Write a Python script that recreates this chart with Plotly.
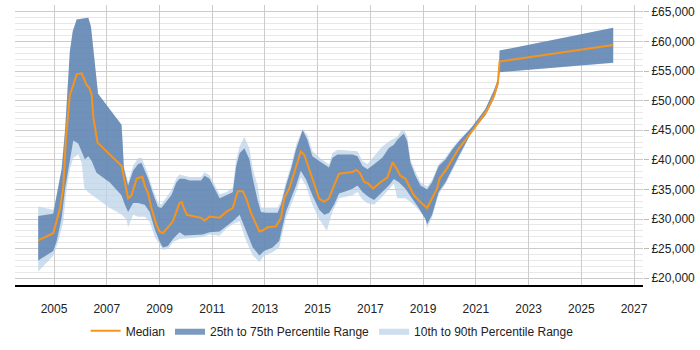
import plotly.graph_objects as go

# ---- data (decimal years, GBP) ----
median_x = [2004.40, 2004.97, 2005.23, 2005.35, 2005.45, 2005.60, 2005.73, 2005.86, 2006.05, 2006.13,
            2006.24, 2006.34, 2006.43, 2006.49, 2006.65, 2007.56, 2007.81, 2007.94, 2008.13, 2008.25,
            2008.35, 2008.44, 2008.57, 2008.69, 2008.88, 2009.00, 2009.13, 2009.32, 2009.51, 2009.64,
            2009.76, 2009.85, 2009.92, 2010.04, 2010.40, 2010.58, 2010.71, 2010.90, 2011.28, 2011.53,
            2011.78, 2011.97, 2012.16, 2012.29, 2012.47, 2012.66, 2012.79, 2012.92, 2013.10, 2013.42,
            2013.61, 2013.73, 2013.92, 2014.11, 2014.36, 2014.49, 2014.68, 2014.87, 2015.06, 2015.25,
            2015.43, 2015.62, 2015.81, 2016.07, 2016.32, 2016.47, 2016.60, 2016.76, 2016.92, 2017.10,
            2017.32, 2017.64, 2017.77, 2017.85, 2017.98, 2018.14, 2018.33, 2018.65, 2018.90, 2019.15,
            2019.34, 2019.53, 2019.62, 2019.91, 2020.35, 2020.92, 2021.42, 2021.71, 2021.84, 2021.90,
            2026.21]
median_y = [26400, 27600, 31900, 35300, 43400, 51000, 52600, 54450, 54600, 53800,
            52600, 52150, 51000, 47200, 42900, 39000, 33500, 34000, 36800, 37000,
            37150, 35650, 34350, 31900, 29100, 27900, 27600, 28600, 29600, 31200,
            32700, 32850, 31900, 30700, 30400, 30200, 29700, 30400, 30200, 31200,
            31850, 34700, 34700, 33500, 31050, 29100, 27900, 28100, 28600, 28750,
            30200, 33500, 35150, 37800, 41400, 40900, 38450, 35650, 33400, 32900,
            33500, 35650, 37650, 37800, 37950, 38300, 37800, 36300, 36000, 35150,
            36000, 37000, 38450, 39600, 38600, 37300, 36800, 34000, 32850, 31850,
            33500, 35150, 36800, 38600, 41900, 45200, 48350, 51000, 53300, 56600,
            59400]

p75_x = [2004.40, 2004.97, 2005.10, 2005.29, 2005.42, 2005.52, 2005.60, 2005.71, 2005.86, 2006.11,
         2006.30, 2006.40, 2006.49, 2006.61, 2006.67, 2007.12, 2007.56, 2007.60, 2007.65, 2007.81,
         2008.00, 2008.19, 2008.32, 2008.40, 2008.57, 2008.75, 2008.94, 2009.07, 2009.26, 2009.45,
         2009.64, 2009.76, 2009.95, 2010.14, 2010.58, 2010.71, 2010.90, 2011.09, 2011.28, 2011.53,
         2011.78, 2011.91, 2012.04, 2012.22, 2012.41, 2012.54, 2012.72, 2012.85, 2013.04, 2013.48,
         2013.61, 2013.80, 2013.99, 2014.18, 2014.43, 2014.61, 2014.80, 2015.06, 2015.25, 2015.43,
         2015.56, 2015.75, 2016.32, 2016.51, 2016.70, 2016.89, 2017.14, 2017.45, 2017.70, 2017.89,
         2018.02, 2018.14, 2018.27, 2018.40, 2018.52, 2018.71, 2018.90, 2019.15, 2019.34, 2019.59,
         2019.85, 2020.10, 2020.35, 2020.85, 2021.36, 2021.67, 2021.86, 2021.90, 2026.21]
p75_y = [30500, 30900, 34000, 38450, 45050, 53300, 58250, 61700, 63700, 63850,
         64000, 62500, 58700, 53300, 51150, 48500, 45900, 43000, 38500, 35650,
         38150, 39300, 39450, 38600, 36800, 34350, 32050, 31850, 32850, 34000,
         36150, 36800, 36800, 36500, 36500, 37300, 36800, 35150, 33500, 34000,
         34500, 38950, 41100, 41950, 40100, 36800, 33200, 31200, 31050, 31050,
         32400, 35650, 38450, 41750, 45050, 43400, 40600, 39800, 39300, 38700,
         40350, 40900, 40900, 40600, 38950, 38400, 39250, 40350, 42000, 42550,
         43400, 43900, 44450, 43100, 39500, 37300, 35650, 35000, 36200, 38950,
         40050, 41700, 43100, 45550, 48600, 51600, 53800, 58450, 62300]

p25_x = [2004.40, 2004.97, 2005.10, 2005.29, 2005.42, 2005.58, 2005.73, 2005.92, 2006.05, 2006.17,
         2006.30, 2006.43, 2006.61, 2007.12, 2007.56, 2007.68, 2007.81, 2008.00, 2008.19, 2008.44,
         2008.63, 2008.82, 2009.00, 2009.13, 2009.32, 2009.51, 2009.76, 2009.95, 2010.64, 2010.90,
         2011.28, 2011.53, 2011.78, 2012.04, 2012.29, 2012.54, 2012.79, 2012.98, 2013.29, 2013.54,
         2013.80, 2014.18, 2014.36, 2014.55, 2014.80, 2015.06, 2015.25, 2015.43, 2015.62, 2015.81,
         2016.07, 2016.32, 2016.51, 2016.70, 2016.92, 2017.14, 2017.45, 2017.70, 2017.89, 2018.08,
         2018.33, 2018.58, 2018.84, 2019.09, 2019.15, 2019.34, 2019.59, 2019.85, 2020.35, 2020.85,
         2021.36, 2021.67, 2021.86, 2021.90, 2026.21]
p25_y = [23000, 24600, 26250, 30200, 35150, 39450, 43250, 42750, 41400, 40100,
         40600, 39800, 37800, 36150, 34000, 32500, 31200, 32700, 32700, 32400,
         31200, 28250, 26250, 25200, 25450, 26600, 27750, 27200, 27400, 27750,
         27900, 28800, 29600, 30700, 27950, 25200, 23850, 24650, 25200, 26300,
         31250, 35650, 38150, 36750, 34000, 31550, 30700, 31000, 32400, 34300,
         34700, 35100, 35650, 34550, 33750, 33200, 34550, 35650, 36750, 36200,
         35100, 33500, 31800, 29900, 29100, 30700, 34550, 36200, 40600, 44750,
         47500, 50200, 52700, 54800, 56400]

p90_x = [2004.40, 2004.97, 2005.10, 2005.29, 2005.42, 2005.52, 2005.60, 2005.71, 2005.86, 2006.11,
         2006.30, 2006.40, 2006.49, 2006.61, 2006.67, 2007.12, 2007.56, 2007.60, 2007.65, 2007.81,
         2008.00, 2008.19, 2008.32, 2008.40, 2008.57, 2008.75, 2008.94, 2009.07, 2009.26, 2009.45,
         2009.64, 2009.76, 2009.95, 2010.14, 2010.58, 2010.71, 2010.90, 2011.09, 2011.28, 2011.53,
         2011.78, 2011.91, 2012.04, 2012.22, 2012.41, 2012.54, 2012.72, 2012.85, 2013.04, 2013.48,
         2013.61, 2013.80, 2013.99, 2014.18, 2014.43, 2014.61, 2014.80, 2015.06, 2015.25, 2015.43,
         2015.56, 2015.75, 2016.51, 2016.70, 2016.89, 2017.14, 2017.45, 2017.70, 2018.02, 2018.14,
         2018.27, 2018.40, 2018.52, 2018.71, 2018.90, 2019.15, 2019.34, 2019.59, 2019.85, 2020.10,
         2020.35, 2020.85, 2021.36, 2021.67, 2021.86, 2021.90, 2026.21]
p90_y = [32100, 31550, 34000, 38450, 45050, 53300, 58250, 61700, 63700, 63850,
         64000, 62500, 58700, 53300, 51150, 48500, 45900, 43000, 39000, 36200,
         39000, 40300, 40300, 39500, 37500, 35000, 32800, 32500, 33600, 34800,
         36900, 37500, 37300, 37100, 37100, 37900, 37400, 35800, 34200, 34500,
         35300, 40000, 42250, 43900, 41950, 38500, 35650, 31850, 31850, 31850,
         33000, 36300, 39000, 42500, 45200, 44200, 41500, 40400, 39800, 39200,
         41150, 41700, 41450, 39800, 39300, 40600, 42250, 43100, 43900, 44750,
         45100, 43900, 40000, 38000, 36200, 35500, 36600, 39300, 40400, 42000,
         43300, 45550, 48600, 51600, 53800, 58450, 62300]

p10_x = [2004.40, 2004.97, 2005.16, 2005.35, 2005.48, 2005.60, 2005.73, 2005.92, 2006.05, 2006.15,
         2006.30, 2006.43, 2006.61, 2007.12, 2007.56, 2007.75, 2007.81, 2008.00, 2008.19, 2008.44,
         2008.63, 2008.82, 2009.13, 2009.32, 2009.51, 2009.76, 2010.64, 2010.90, 2011.28, 2011.53,
         2011.78, 2012.04, 2012.29, 2012.54, 2012.79, 2012.98, 2013.29, 2013.54, 2013.80, 2014.18,
         2014.36, 2014.55, 2014.80, 2015.06, 2015.25, 2015.35, 2015.56, 2015.81, 2016.32, 2016.51,
         2016.70, 2016.89, 2017.14, 2017.45, 2017.70, 2017.89, 2018.02, 2018.33, 2018.58, 2018.84,
         2019.09, 2019.15, 2019.34, 2019.59, 2019.85, 2020.35, 2020.85, 2021.36, 2021.67, 2021.86,
         2021.90, 2026.21]
p10_y = [21150, 23800, 26250, 29550, 35150, 38450, 40300, 40950, 39450, 35150,
         34500, 34000, 33500, 31850, 30750, 29900, 28600, 30700, 30400, 30400,
         29550, 26950, 24800, 24950, 26100, 26600, 26950, 27400, 27150, 28400,
         29100, 29600, 26300, 23850, 22750, 23850, 24400, 25200, 30200, 34550,
         37050, 35650, 32400, 30000, 28700, 28000, 31250, 33500, 34000, 34550,
         33300, 32650, 32400, 33750, 35000, 35950, 33500, 33500, 32650, 31500,
         30200, 28500, 30300, 34200, 35900, 40300, 44750, 47500, 50200, 52700,
         54800, 56400]

x_ticks = [2005, 2007, 2009, 2011, 2013, 2015, 2017, 2019, 2021, 2023, 2025, 2027]

FONT = "Liberation Sans, Arial, sans-serif"

fig = go.Figure()

# 10th-90th band (polygon upper + reversed lower)
fig.add_trace(go.Scatter(
    x=p90_x + p10_x[::-1], y=p90_y + p10_y[::-1],
    fill="toself", fillcolor="rgba(186,209,232,0.72)",
    line=dict(width=0, color="rgba(186,209,232,0.72)"),
    mode="lines", name="10th to 90th Percentile Range", hoverinfo="skip"))

# 25th-75th band
fig.add_trace(go.Scatter(
    x=p75_x + p25_x[::-1], y=p75_y + p25_y[::-1],
    fill="toself", fillcolor="rgba(80,120,168,0.75)",
    line=dict(width=0, color="rgba(80,120,168,0.75)"),
    mode="lines", name="25th to 75th Percentile Range", hoverinfo="skip"))

fig.add_trace(go.Scatter(
    x=median_x, y=median_y, mode="lines", name="Median",
    line=dict(color="#f7941d", width=2)))

fig.update_layout(
    width=700, height=350,
    margin=dict(l=15, r=55, t=5, b=58),
    paper_bgcolor="white", plot_bgcolor="white",
    font=dict(family=FONT, size=12, color="#222"),
    showlegend=True,
    legend=dict(orientation="h", x=0.505, xanchor="center", y=-0.112, yanchor="top",
                traceorder="reversed", font=dict(size=12, color="#222"),
                itemwidth=30),
)

fig.update_xaxes(
    range=[2003.52, 2027.34], tickvals=x_ticks, ticktext=[str(v) for v in x_ticks],
    showgrid=True, gridcolor="#cccccc", gridwidth=1,
    showline=True, linecolor="#000000", linewidth=2,
    ticks="", ticklabelstandoff=12, zeroline=False,
    tickfont=dict(family=FONT, size=12, color="#222"))

fig.update_yaxes(
    side="right", range=[18850, 66150], tick0=20000, dtick=5000,
    tickprefix="£", tickformat=",d",
    showgrid=True, gridcolor="#cccccc", gridwidth=1,
    minor=dict(dtick=1000, tick0=20000, showgrid=True, gridcolor="#e8e8e8", gridwidth=1),
    ticks="outside", ticklen=5, tickcolor="#bbbbbb",
    showline=False, zeroline=False,
    tickfont=dict(family=FONT, size=12, color="#222"))

fig.write_html("out.html")
